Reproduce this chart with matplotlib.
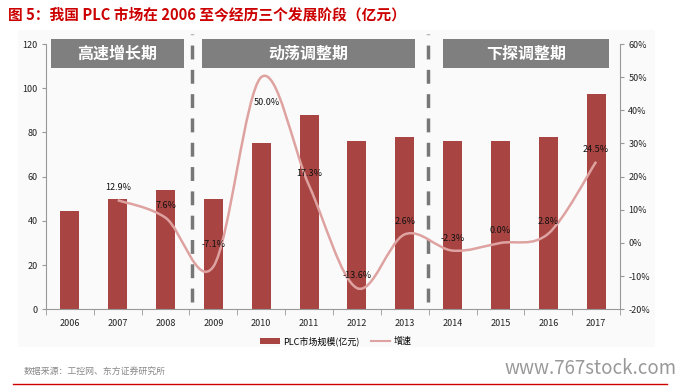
import matplotlib.pyplot as plt
from matplotlib.path import Path
from matplotlib.patches import PathPatch, Rectangle
from matplotlib.lines import Line2D

plt.rcParams['font.family'] = ['Noto Sans CJK SC', 'DejaVu Sans']

years = ['2006', '2007', '2008', '2009', '2010', '2011', '2012', '2013', '2014', '2015', '2016', '2017']
market_size = [44.4, 50.0, 53.8, 50.0, 75.0, 88.0, 76.0, 78.0, 76.0, 76.0, 78.0, 97.2]
growth = [None, 12.9, 7.6, -7.1, 50.0, 17.3, -13.6, 2.6, -2.3, 0.0, 2.8, 24.5]
stages = ['高速增长期', '动荡调整期', '下探调整期']
stage_spans = [(-0.40, 2.39), (2.755, 7.215), (7.79, 11.27)]
stage_breaks = [2.55, 7.49]

bar_color = '#a84442'
line_color = '#dea3a1'
W, H = 684, 386

fig = plt.figure(figsize=(W / 100, H / 100), dpi=100)
fig.patches.append(Rectangle((18 / W, 1 - 347 / H), 637 / W, 317 / H, transform=fig.transFigure,
                             facecolor='#fafafa', edgecolor='none', zorder=-10))

ax = fig.add_axes([46 / W, 1 - 309.3 / H, 574 / W, 265.3 / H])
ax.set_facecolor('none')
x = list(range(len(years)))
ax.bar(x, market_size, width=0.40, color=bar_color, zorder=2)
ax.set_xlim(-0.5, len(years) - 0.5)
ax.set_ylim(0, 120)
ax.set_yticks(range(0, 121, 20))
ax.set_xticks(x)
ax.set_xticklabels(years)
ax.set_xticks([i + 0.5 for i in range(-1, len(years))], minor=True)
ax.tick_params(axis='x', which='major', length=0, pad=7, labelsize=6.5, colors='#222222')
ax.tick_params(axis='x', which='minor', length=4, color='#999999')
ax.tick_params(axis='y', length=3, color='#999999', labelsize=6.5, labelcolor='#222222', pad=3)
for s in ['top', 'right']:
    ax.spines[s].set_visible(False)
for s in ['left', 'bottom']:
    ax.spines[s].set_color('#999999')
    ax.spines[s].set_linewidth(0.8)

ax2 = ax.twinx()
ax2.set_ylim(-20, 60)
ax2.set_yticks(range(-20, 61, 10))
ax2.set_yticklabels([f'{v}%' for v in range(-20, 61, 10)])
ax2.tick_params(axis='y', length=3, color='#999999', labelsize=6.5, labelcolor='#222222', pad=3)
for s in ['top', 'left', 'bottom']:
    ax2.spines[s].set_visible(False)
ax2.spines['right'].set_color('#999999')
ax2.spines['right'].set_linewidth(0.8)

# smoothed growth line (Catmull-Rom as cubic Bezier, like Excel smoothing)
pts = [(i, g) for i, g in zip(x, growth) if g is not None]
verts = [pts[0]]
codes = [Path.MOVETO]
for k in range(len(pts) - 1):
    p0 = pts[k - 1] if k > 0 else pts[k]
    p1, p2 = pts[k], pts[k + 1]
    p3 = pts[k + 2] if k + 2 < len(pts) else pts[k + 1]
    c1 = (p1[0] + (p2[0] - p0[0]) / 6, p1[1] + (p2[1] - p0[1]) / 6)
    c2 = (p2[0] - (p3[0] - p1[0]) / 6, p2[1] - (p3[1] - p1[1]) / 6)
    verts += [c1, c2, p2]
    codes += [Path.CURVE4] * 3
ax2.add_patch(PathPatch(Path(verts, codes), facecolor='none', edgecolor=line_color, lw=1.8, zorder=3))

for i, g in pts:
    dx, dy = 0, 9
    if g == 50.0:
        dx, dy = 4, -18
    elif g == -7.1:
        dy = 16
    ax2.annotate(f'{g:.1f}%', (i, g), xytext=(dx, dy), textcoords='offset points',
                 ha='center', va='center', fontsize=6.5, color='#111111', zorder=4)

# stage boxes
for name, (x0, x1) in zip(stages, stage_spans):
    ax.add_patch(Rectangle((x0, 109), x1 - x0, 13.1, facecolor='#7f7f7f', edgecolor='none',
                           clip_on=False, zorder=3))
    ax.text((x0 + x1) / 2, 115.5, name, ha='center', va='center',
            fontsize=11.5, color='white', fontweight='bold', zorder=4)
for bx in stage_breaks:
    ax.plot([bx, bx], [3.5, 124.5], color='#777777', lw=2.5, ls=(0, (4, 3)), clip_on=False, zorder=1)

handles = [Rectangle((0, 0), 1, 1, facecolor=bar_color), Line2D([], [], color=line_color, lw=1.5)]
fig.legend(handles, ['PLC市场规模(亿元)', '增速'], loc='center', bbox_to_anchor=(336 / W, 1 - 341 / H),
           ncol=2, frameon=False, fontsize=6.5, handlelength=2.2, handleheight=0.7, columnspacing=1.2,
           handletextpad=0.4)

fig.text(8 / W, 1 - 14 / H, '图 5：我国 PLC 市场在 2006 至今经历三个发展阶段（亿元）', fontsize=10.6,
         fontweight='bold', color='#cc0000', va='center', ha='left')
fig.text(24 / W, 1 - 371 / H, '数据来源：工控网、东方证券研究所', fontsize=6.4, color='#888888',
         va='center', ha='left')
fig.text(677 / W, 1 - 368 / H, 'www.767stock.com', fontsize=13.5, color='#999999', va='center', ha='right')
fig.add_artist(Line2D([13 / W, 667 / W], [1 - 384 / H, 1 - 384 / H], color='#cc0000', lw=1))

fig.savefig('out.png', dpi=100)
